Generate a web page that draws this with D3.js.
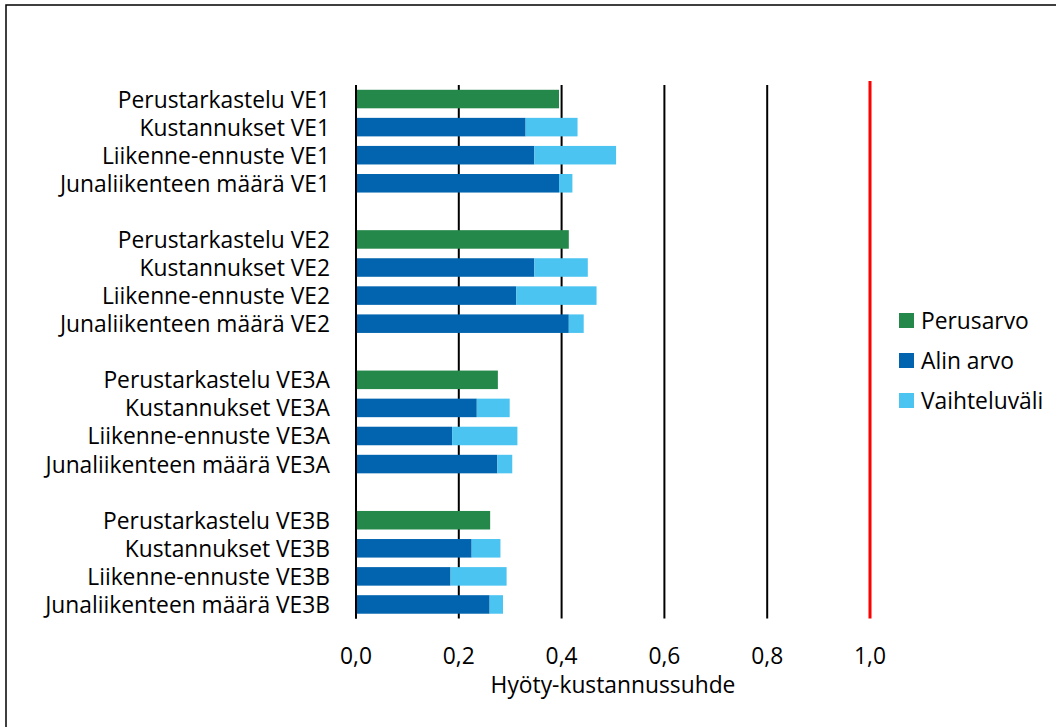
<!DOCTYPE html>
<html>
<head>
<meta charset="utf-8">
<script src="https://cdn.jsdelivr.net/npm/d3@7"></script>
<style>
  html, body { margin: 0; padding: 0; background: #fff; }
  text { font-family: "Open Sans", "Noto Sans", sans-serif; fill: #000; }
</style>
</head>
<body>
<svg id="chart" width="1056" height="727"></svg>
<script>
// ---- data ----
const categories = [
  "Perustarkastelu VE1", "Kustannukset VE1", "Liikenne-ennuste VE1", "Junaliikenteen määrä VE1", "",
  "Perustarkastelu VE2", "Kustannukset VE2", "Liikenne-ennuste VE2", "Junaliikenteen määrä VE2", "",
  "Perustarkastelu VE3A", "Kustannukset VE3A", "Liikenne-ennuste VE3A", "Junaliikenteen määrä VE3A", "",
  "Perustarkastelu VE3B", "Kustannukset VE3B", "Liikenne-ennuste VE3B", "Junaliikenteen määrä VE3B"
];
const perusarvo = [
  0.395, null, null, null, null,
  0.414, null, null, null, null,
  0.276, null, null, null, null,
  0.261, null, null, null
];
const alinArvo = [
  null, 0.330, 0.347, 0.395, null,
  null, 0.347, 0.312, 0.414, null,
  null, 0.235, 0.187, 0.275, null,
  null, 0.225, 0.184, 0.260
];
const vaihteluvali = [
  null, 0.101, 0.159, 0.026, null,
  null, 0.104, 0.156, 0.029, null,
  null, 0.064, 0.127, 0.029, null,
  null, 0.056, 0.109, 0.026
];
const xTicks = [0, 0.2, 0.4, 0.6, 0.8, 1.0];
const xTickLabels = ["0,0", "0,2", "0,4", "0,6", "0,8", "1,0"];
const referenceValue = 1.0;
const seriesNames = ["Perusarvo", "Alin arvo", "Vaihteluväli"];
const seriesColors = ["#23884A", "#0264AE", "#4BC4F1"];
const axisTitle = "Hyöty-kustannussuhde";

// ---- layout ----
const svg = d3.select("#chart");
const plot = { left: 356, right: 870, top: 85, bottom: 618.5 };
const fontSize = 22.8;

svg.append("rect")
  .attr("x", 6).attr("y", 5).attr("width", 1200).attr("height", 900)
  .attr("fill", "none").attr("stroke", "#000").attr("stroke-width", 1.5);

const x = d3.scaleLinear().domain([0, 1]).range([plot.left, plot.right]);
const y = d3.scaleBand().domain(d3.range(categories.length))
  .range([plot.top, plot.bottom]).paddingInner(0.34).paddingOuter(0.17);

// gridlines (black) excluding 1.0 which is the red reference line
svg.append("g").selectAll("line")
  .data(xTicks.filter(t => t < referenceValue))
  .join("line")
  .attr("x1", d => x(d)).attr("x2", d => x(d))
  .attr("y1", plot.top).attr("y2", plot.bottom)
  .attr("stroke", "#000").attr("stroke-width", 2);

// bars
const idx = d3.range(categories.length);
const bh = y.bandwidth();
svg.append("g").selectAll("rect")
  .data(idx.filter(i => perusarvo[i] != null))
  .join("rect")
  .attr("x", x(0)).attr("y", i => y(i))
  .attr("width", i => x(perusarvo[i]) - x(0)).attr("height", bh)
  .attr("fill", seriesColors[0]);
svg.append("g").selectAll("rect")
  .data(idx.filter(i => alinArvo[i] != null))
  .join("rect")
  .attr("x", x(0)).attr("y", i => y(i))
  .attr("width", i => x(alinArvo[i]) - x(0)).attr("height", bh)
  .attr("fill", seriesColors[1]);
svg.append("g").selectAll("rect")
  .data(idx.filter(i => vaihteluvali[i] != null))
  .join("rect")
  .attr("x", i => x(alinArvo[i])).attr("y", i => y(i))
  .attr("width", i => x(alinArvo[i] + vaihteluvali[i]) - x(alinArvo[i])).attr("height", bh)
  .attr("fill", seriesColors[2]);

// axis line at 0 on top
svg.append("line")
  .attr("x1", x(0)).attr("x2", x(0)).attr("y1", plot.top).attr("y2", plot.bottom)
  .attr("stroke", "#000").attr("stroke-width", 2);

// red reference line
svg.append("line")
  .attr("x1", x(referenceValue)).attr("x2", x(referenceValue))
  .attr("y1", plot.top - 4).attr("y2", plot.bottom)
  .attr("stroke", "#FF0000").attr("stroke-width", 3);

// category labels
svg.append("g").selectAll("text")
  .data(idx.filter(i => categories[i] !== ""))
  .join("text")
  .attr("x", plot.left - 26)
  .attr("y", i => y(i) + bh / 2 + 8.5)
  .attr("text-anchor", "end")
  .attr("font-size", fontSize)
  .text(i => categories[i]);

// x tick labels
svg.append("g").selectAll("text")
  .data(xTicks)
  .join("text")
  .attr("x", d => x(d)).attr("y", 664)
  .attr("text-anchor", "middle")
  .attr("font-size", fontSize)
  .text((d, i) => xTickLabels[i]);

// axis title
svg.append("text")
  .attr("x", (plot.left + plot.right) / 2).attr("y", 693)
  .attr("text-anchor", "middle")
  .attr("font-size", fontSize)
  .text(axisTitle);

// legend
const lg = svg.append("g").attr("transform", "translate(899,313)");
seriesNames.forEach((name, i) => {
  lg.append("rect").attr("x", 0).attr("y", i * 40).attr("width", 15).attr("height", 15)
    .attr("fill", seriesColors[i]);
  lg.append("text").attr("x", 22).attr("y", i * 40 + 16)
    .attr("font-size", fontSize).text(name);
});
</script>
</body>
</html>
